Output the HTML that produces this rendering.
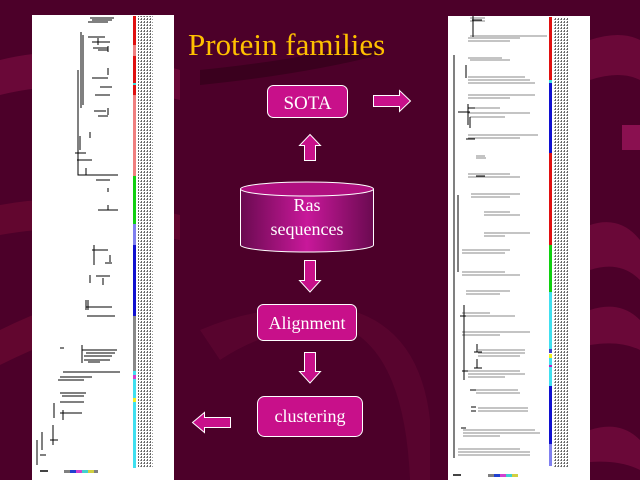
<!DOCTYPE html>
<html><head><meta charset="utf-8"><style>
html,body{margin:0;padding:0;background:#4a0028;}
svg{display:block}
</style></head><body>
<svg width="640" height="480" viewBox="0 0 640 480" xmlns="http://www.w3.org/2000/svg">
<defs>
<linearGradient id="cyl" x1="0" x2="1" y1="0" y2="0">
<stop offset="0" stop-color="#6a0a50"/><stop offset="0.5" stop-color="#c8189a"/><stop offset="1" stop-color="#6a0a50"/>
</linearGradient>
<pattern id="dots" width="3" height="3" patternUnits="userSpaceOnUse">
<rect width="3" height="3" fill="#fff"/><rect width="1" height="2" fill="#666"/><rect x="2" y="1" width="1" height="1" fill="#999"/>
</pattern>
</defs>
<rect width="640" height="480" fill="#4c0029"/>
<path d="M0 60 Q80 40 180 70 L180 100 Q80 75 0 95Z" fill="#6a0838"/>
<path d="M0 205 Q80 190 180 215 L180 240 Q80 220 0 235Z" fill="#62062f"/>
<path d="M0 330 Q60 300 120 290 L120 320 Q60 335 0 365Z" fill="#62062f"/>
<path d="M590 40 Q620 30 640 40 L640 80 Q620 70 590 80Z" fill="#6a0838"/>
<path d="M590 225 Q620 215 640 240 L640 280 Q620 260 590 270Z" fill="#6a0838"/>
<path d="M590 310 Q620 300 640 320 L640 350 Q620 340 590 345Z" fill="#6a0838"/>
<path d="M590 430 Q620 420 640 440 L640 470 Q620 460 590 462Z" fill="#6a0838"/>
<path d="M380 40 Q300 60 200 70 L200 85 Q300 75 380 55Z" fill="#3a001e"/>
<path d="M200 330 Q270 300 350 310 Q420 330 430 420 L430 480 L410 480 Q405 360 350 330 Q280 320 220 360Z" fill="#58042e"/>
<rect x="622" y="125" width="18" height="25" fill="#8a1050"/>

<!-- left panel -->
<rect x="32" y="15" width="142" height="465" fill="#fff"/>
<rect x="138" y="16" width="15" height="452" fill="url(#dots)"/>
<rect x="133" y="16" width="3" height="29" fill="#e01010"/>
<rect x="133" y="45" width="3" height="11" fill="#f08080"/>
<rect x="133" y="56" width="3" height="27" fill="#e01010"/>
<rect x="133" y="83" width="3" height="2" fill="#40e0e0"/>
<rect x="133" y="85" width="3" height="10" fill="#e01010"/>
<rect x="133" y="95" width="3" height="81" fill="#f08080"/>
<rect x="133" y="176" width="3" height="48" fill="#10d010"/>
<rect x="133" y="224" width="3" height="21" fill="#8080f0"/>
<rect x="133" y="245" width="3" height="71" fill="#1010d0"/>
<rect x="133" y="316" width="3" height="55" fill="#888"/>
<rect x="133" y="371" width="3" height="97" fill="#40e0f0"/>
<rect x="133" y="375" width="3" height="4" fill="#d040d0"/>
<rect x="133" y="398" width="3" height="4" fill="#f0f020"/>
<g stroke="#000" stroke-width="1" fill="none">
<path d="M90 18H114M92 20H112M88 22H108M81 32V108M83 35V105M78 70V175H118M88 37H105M98 38V45M92 42H110M93 48H108M98 50H108M108 46V52M108 68V75M92 78H108M100 87H112M95 95H110M94 111H106M108 108V115M98 116H108M90 132V138M80 136V150M75 153H86M77 160H92M86 168V175M96 180H110M108 188V192M108 205V210M98 210H118M92 250H108M94 245V265M110 255V262M105 263H112M90 275V283M96 276H110M103 278V285M86 307H112M86 310V300M87 316H115M88 300V310M82 345V363M82 350H117M86 353H115M84 356H112M84 360H110M88 362H100M60 348H64M63 372H120M60 377H92M58 380H84M60 393H86M62 396H84M60 402H84M60 413H82M54 403V418M63 410V420M53 425V445M50 440H58M42 432V450M37 440V465M40 455H46"/>
</g>
<g>
<rect x="64" y="470" width="6" height="3" fill="#808080"/><rect x="70" y="470" width="6" height="3" fill="#2040d0"/><rect x="76" y="470" width="6" height="3" fill="#d040d0"/><rect x="82" y="470" width="6" height="3" fill="#40d0d0"/><rect x="88" y="470" width="6" height="3" fill="#d0d040"/><rect x="94" y="470" width="4" height="3" fill="#808080"/>
<rect x="40" y="470" width="8" height="2" fill="#444"/>
</g>

<!-- right panel -->
<rect x="448" y="16" width="142" height="464" fill="#fff"/>
<rect x="553" y="17" width="15" height="450" fill="url(#dots)"/>
<rect x="549" y="17" width="3" height="63" fill="#e01010"/>
<rect x="549" y="80" width="3" height="3" fill="#40e0e0"/>
<rect x="549" y="83" width="3" height="70" fill="#1010d0"/>
<rect x="549" y="153" width="3" height="92" fill="#e01010"/>
<rect x="549" y="245" width="3" height="47" fill="#10d010"/>
<rect x="549" y="292" width="3" height="57" fill="#40e0f0"/>
<rect x="549" y="349" width="3" height="4" fill="#4040d0"/>
<rect x="549" y="354" width="3" height="4" fill="#f0f020"/>
<rect x="549" y="358" width="3" height="7" fill="#40e0f0"/>
<rect x="549" y="365" width="3" height="2" fill="#c020c0"/>
<rect x="549" y="367" width="3" height="19" fill="#40e0f0"/>
<rect x="549" y="386" width="3" height="58" fill="#1010d0"/>
<rect x="549" y="444" width="3" height="22" fill="#8080f0"/>
<g stroke="#888" stroke-width="1">
<path d="M470 18H485M470 21H485M470 36H547M468 38H520M468 41H510M468 58H502M470 60H510M468 77H525M468 80H530M468 83H535M468 95H535M468 98H510M468 108H500M468 113H530M470 117H505M468 135H538M468 138H520M476 156H485M476 158H486M468 174H510M468 177H520M471 194H520M471 197H510M484 212H510M484 215H520M484 233H530M484 236H505M462 250H510M462 253H505M462 272H505M462 275H520M466 291H510M466 294H500M462 313H490M462 316H515M462 332H530M462 335H500M478 350H525M478 353H525M478 356H520M468 371H520M468 374H525M468 377H505M476 390H518M476 393H520M478 408H528M478 411H528M463 430H535M463 433H540M463 436H500M458 449H520M458 452H530M458 455H530"/>
</g>
<g stroke="#000" stroke-width="1">
<path d="M472 20H482M473 16V28M473 27V37M454 55V458M458 195V272M466 65V78M458 112H470M468 104V125M470 117V128M468 108H475M466 139H475M476 176H485M464 305V380M460 316H466M477 344V352M474 352H482M477 359V368M474 368H482M462 371H468M470 390H476M471 407H476M471 411H476M461 428H466"/>
</g>
<g>
<rect x="488" y="474" width="6" height="3" fill="#808080"/><rect x="494" y="474" width="6" height="3" fill="#2040d0"/><rect x="500" y="474" width="6" height="3" fill="#d040d0"/><rect x="506" y="474" width="6" height="3" fill="#40d0d0"/><rect x="512" y="474" width="6" height="3" fill="#d0d040"/>
<rect x="453" y="474" width="8" height="2" fill="#444"/>
</g>

<text x="188" y="55" font-family="'Liberation Serif',serif" font-size="31" fill="#ffc000">Protein families</text>

<g fill="#c8108a" stroke="#fff" stroke-width="1">
<path d="M373.5 95.5H399.5V90.5L410.5 101L399.5 111.5V106.5H373.5Z"/>
<path d="M304.5 160.5V145.5H299.5L310 134.5L320.5 145.5H315.5V160.5Z"/>
<path d="M304.5 260.5V280.5H299.5L310 292L320.5 280.5H315.5V260.5Z"/>
<path d="M304.5 352.5V371.5H299.5L310 383L320.5 371.5H315.5V352.5Z"/>
<path d="M230.5 417.5H204.5V412.5L192.5 422.5L204.5 432.5V427.5H230.5Z"/>
</g>

<rect x="267.5" y="85.5" width="80" height="32" rx="6" fill="#c8108a" stroke="#fff"/>
<text x="307.5" y="109" text-anchor="middle" font-family="'Liberation Serif',serif" font-size="19" fill="#fff">SOTA</text>

<path d="M240.5 189V245A66.5 7 0 0 0 373.5 245V189" fill="url(#cyl)" stroke="#fff"/>
<ellipse cx="307" cy="189" rx="66.5" ry="7" fill="#b01080" stroke="#fff"/>
<text x="307" y="211" text-anchor="middle" font-family="'Liberation Serif',serif" font-size="18" fill="#fff">Ras</text>
<text x="307" y="235" text-anchor="middle" font-family="'Liberation Serif',serif" font-size="18" fill="#fff">sequences</text>

<rect x="257.5" y="304.5" width="99" height="36" rx="6" fill="#c8108a" stroke="#fff"/>
<text x="307" y="329" text-anchor="middle" font-family="'Liberation Serif',serif" font-size="18" fill="#fff">Alignment</text>

<rect x="257.5" y="396.5" width="105" height="40" rx="7" fill="#c8108a" stroke="#fff"/>
<text x="310" y="422" text-anchor="middle" font-family="'Liberation Serif',serif" font-size="18" fill="#fff">clustering</text>
</svg>
</body></html>
